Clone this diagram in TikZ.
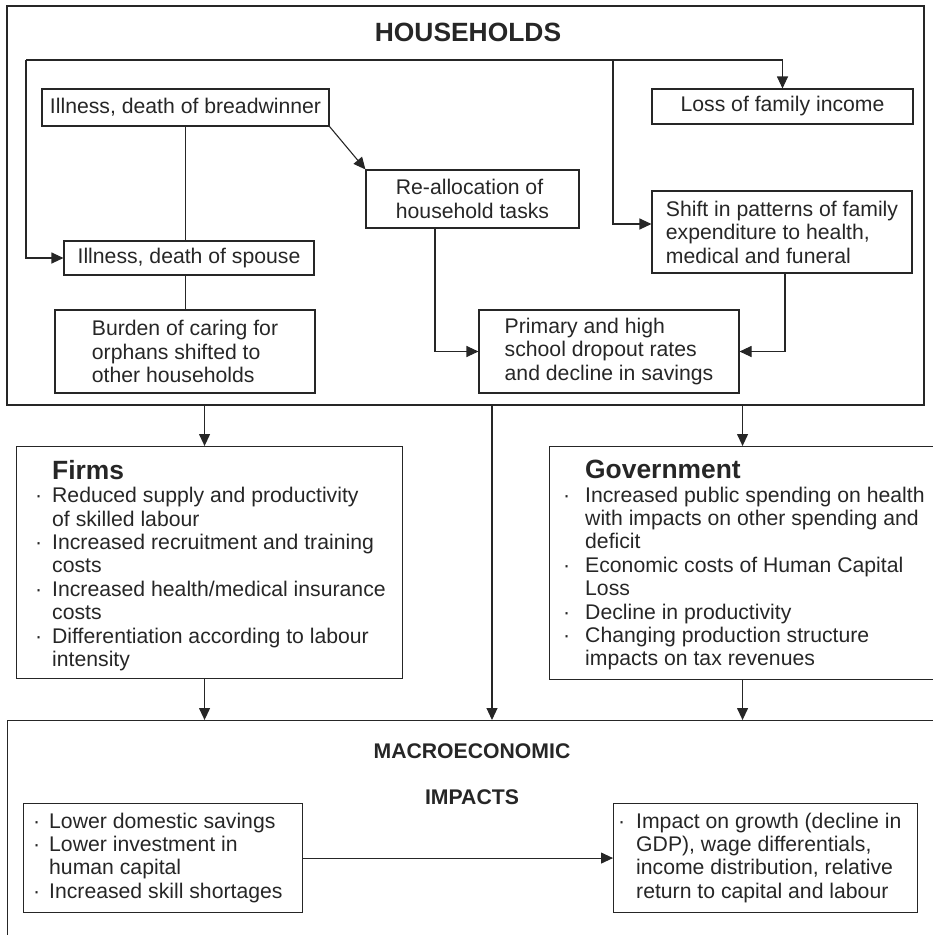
\documentclass[tikz,border=0pt]{standalone}
\usepackage{fontspec}
\setmainfont{Liberation Sans}
\usetikzlibrary{arrows.meta}
\usetikzlibrary{positioning}
\definecolor{ink}{gray}{0.15}
\newcommand{\itembul}[1]{\llap{\textperiodcentered\hspace{#1}}}
\tikzstyle{plain_box} = [
    draw=ink, 
    line width=1.1pt, 
    align=left, 
    text=ink, 
    inner sep=0pt, 
    font=\fontsize{21.2}{23.5}\selectfont
]
\tikzstyle{list_box} = [
    plain_box, 
    anchor=north west
]
\tikzstyle{list_text} = [
    anchor=north west, 
    align=left, 
    text=ink, 
    inner sep=0pt, 
    font=\fontsize{21.2}{23.4}\selectfont
]
\tikzstyle{big_title} = [
    text=ink, 
    inner sep=0pt, 
    font=\fontsize{26.4}{30}\selectfont\bfseries
]
\tikzstyle{small_title} = [
    text=ink, 
    inner sep=0pt, 
    font=\fontsize{21.2}{24}\selectfont\bfseries
]
\tikzstyle{flow_line} = [
    draw=ink, 
    line width=1.1pt
]
\tikzstyle{flow_arrow} = [
    flow_line, 
    -{Triangle[length=12pt, width=11pt]}
]
\newcommand{\boxtitle}[1]{{\fontsize{26.4}{30}\selectfont\bfseries #1}}

\begin{document}
\begin{tikzpicture}[x=1pt, y=1pt]
\useasboundingbox (0,0) rectangle (933,-935);
\clip (0,0) rectangle (933,-935);

% households
\node [plain_box, minimum width=917, minimum height=399] (households) at (465.5,-205.5) {};
\node [big_title] (hhtitle) at (468,-32) {HOUSEHOLDS};
\node [plain_box, minimum width=287, minimum height=37] (breadwinner) at (185.5,-107.5) {Illness, death of breadwinner};
\node [plain_box, minimum width=250, minimum height=34] (spouse) at (189,-258) {Illness, death of spouse};
\node [plain_box, minimum width=260, minimum height=83] (burden) at (185,-351.5) {Burden of caring for\\orphans shifted to\\other households};
\node [plain_box, minimum width=213, minimum height=58] (realloc) at (472.5,-199) {Re-allocation of\\household tasks};
\node [plain_box, minimum width=261, minimum height=35] (income) at (782.5,-106.5) {Loss of family income};
\node [plain_box, minimum width=260, minimum height=82] (shift) at (782,-232) {Shift in patterns of family\\expenditure to health,\\medical and funeral};
\node [plain_box, minimum width=260, minimum height=83] (dropout) at (609,-351.5) {Primary and high\\school dropout rates\\and decline in savings};

\coordinate (split) at (26,-60);
\coordinate (branch) at (613,-60);
\draw [flow_arrow] (split) -| (income.north);
\draw [flow_arrow] (split) |- (spouse.west);
\draw [flow_arrow] (branch) |- ([yshift=8]shift.west);
\draw [flow_line] (breadwinner.south) -- (breadwinner.south |- spouse.north);
\draw [flow_line] (breadwinner.south |- spouse.south) -- (breadwinner.south |- burden.north);
\draw [flow_arrow] (breadwinner.south east) -- (realloc.north west);
\draw [flow_arrow] ([xshift=-37.5]realloc.south) |- (dropout.west);
\draw [flow_arrow] ([xshift=3]shift.south) |- (dropout.east);

% firms and government
\node [list_box, minimum width=386, minimum height=232] (firms) at (16,-446) {};
\node [list_text] (firmslist) at (52,-460) {\boxtitle{Firms}\\
\itembul{10pt}Reduced supply and productivity\\
of skilled labour\\
\itembul{10pt}Increased recruitment and training\\
costs\\
\itembul{10pt}Increased health/medical insurance\\
costs\\
\itembul{10pt}Differentiation according to labour\\
intensity};
\node [list_box, minimum width=400, minimum height=233] (govt) at (549,-446) {};
\node [list_text] (govtlist) at (585,-460) {\boxtitle{Government}\\
\itembul{15pt}Increased public spending on health\\
with impacts on other spending and\\
deficit\\
\itembul{15pt}Economic costs of Human Capital\\
Loss\\
\itembul{15pt}Decline in productivity\\
\itembul{15pt}Changing production structure\\
impacts on tax revenues};

% macroeconomic impacts
\node [list_box, minimum width=940, minimum height=260] (macro) at (7,-720) {};
\node [small_title] (macrotitle) at (472,-751) {MACROECONOMIC};
\node [small_title] (impactstitle) at (472,-797.5) {IMPACTS};
\node [list_box, minimum width=279, minimum height=109] (savings) at (23,-803) {};
\node [list_text] (savingslist) at (49,-812.5) {\itembul{9pt}Lower domestic savings\\
\itembul{9pt}Lower investment in\\
human capital\\
\itembul{9pt}Increased skill shortages};
\node [list_box, minimum width=304, minimum height=109] (growth) at (613,-803) {};
\node [list_text] (growthlist) at (636,-812.5) {\itembul{11pt}Impact on growth (decline in\\
GDP), wage differentials,\\
income distribution, relative\\
return to capital and labour};

\coordinate (firmsin) at ([xshift=-5]firms.north);
\coordinate (govtin) at ([xshift=-7]govt.north);
\coordinate (macroin) at ([xshift=26.5]households.south);
\draw [flow_arrow] (firmsin |- households.south) -- (firmsin);
\draw [flow_arrow] (govtin |- households.south) -- (govtin);
\draw [flow_arrow] (macroin) -- (macroin |- macro.north);
\draw [flow_arrow] (firmsin |- firms.south) -- (firmsin |- macro.north);
\draw [flow_arrow] (govtin |- govt.south) -- (govtin |- macro.north);
\draw [flow_arrow] (savings.east) -- (growth.west);
\end{tikzpicture}
\end{document}
